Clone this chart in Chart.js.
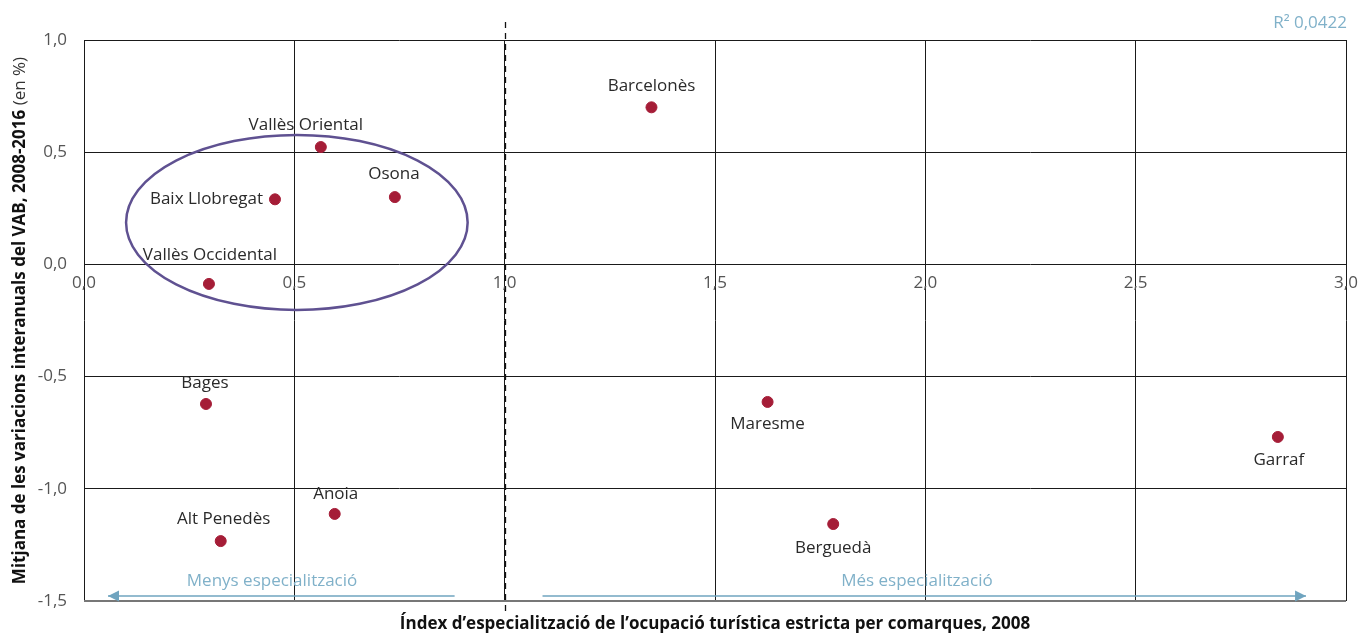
<!DOCTYPE html>
<html>
<head>
<meta charset="utf-8">
<script src="https://cdn.jsdelivr.net/npm/chart.js@4.4.1/dist/chart.umd.min.js"></script>
<style>
  html, body { margin: 0; padding: 0; background: #fff; }
  #wrap { width: 1359px; height: 634px; position: relative; }
</style>
</head>
<body>
<div id="wrap"><canvas id="scatter"></canvas></div>
<script>
// Comarques and values
const comarques = ['Barcelonès', 'Vallès Oriental', 'Osona', 'Baix Llobregat', 'Vallès Occidental',
                   'Bages', 'Anoia', 'Alt Penedès', 'Maresme', 'Berguedà', 'Garraf'];
const indexEspecialitzacio = [1.349, 0.563, 0.739, 0.454, 0.297, 0.290, 0.596, 0.325, 1.625, 1.781, 2.838];
const variacioVAB = [0.70, 0.523, 0.30, 0.29, -0.087, -0.622, -1.112, -1.233, -0.613, -1.157, -0.769];

const xTicks = [0, 0.5, 1.0, 1.5, 2.0, 2.5, 3.0];
const yTicks = [-1.5, -1.0, -0.5, 0, 0.5, 1.0];
const r2Text = 'R² 0,0422';
const menysLabel = 'Menys especialització';
const mesLabel = 'Més especialització';

// highlighted group (ellipse) in data units: cx, cy, rx, ry
const groupEllipse = [0.506, 0.187, 0.406, 0.39];
const threshold = 1.0;

const FONT = '"Open Sans", "DejaVu Sans", sans-serif';
const RED = '#a51d37';
const BLUE = '#80b1c9';

// where each label sits relative to its point: [dx, dy] in px
const labelOffset = {
    'Barcelonès': [0, -21], 'Vallès Oriental': [-15, -22], 'Osona': [-1, -23],
    'Baix Llobregat': ['left', 0], 'Vallès Occidental': [1, -29], 'Bages': [-1, -21],
    'Anoia': [1, -20], 'Alt Penedès': [3, -22], 'Maresme': [0, 22],
    'Berguedà': [0, 24], 'Garraf': [1, 23]
};

function fmt(v) {
    return v.toFixed(1).replace('.', ',');
}

const decoPlugin = {
    id: 'deco',
    beforeDatasetsDraw(chart) {
        const { ctx, chartArea, scales: { x, y } } = chart;
        ctx.save();
        // dashed threshold line
        const tx = Math.round(x.getPixelForValue(threshold)) + 0.5;
        ctx.strokeStyle = '#111';
        ctx.lineWidth = 1.3;
        ctx.setLineDash([6, 5]);
        ctx.beginPath();
        ctx.moveTo(tx, chartArea.top - 18);
        ctx.lineTo(tx, chartArea.bottom + 10);
        ctx.stroke();
        ctx.setLineDash([]);

        // arrows
        const ay = y.getPixelForValue(-1.478);
        ctx.strokeStyle = '#6fa4bf';
        ctx.fillStyle = '#6fa4bf';
        ctx.lineWidth = 1.5;
        const arrows = [[0.057, 0.881, 'left'], [1.09, 2.905, 'right']];
        arrows.forEach(([a, b, dir]) => {
            const x1 = x.getPixelForValue(a), x2 = x.getPixelForValue(b);
            ctx.beginPath();
            ctx.moveTo(x1, ay);
            ctx.lineTo(x2, ay);
            ctx.stroke();
            const tip = dir === 'left' ? x1 : x2;
            const s = dir === 'left' ? 1 : -1;
            ctx.beginPath();
            ctx.moveTo(tip, ay);
            ctx.lineTo(tip + s * 11, ay - 5.5);
            ctx.lineTo(tip + s * 11, ay + 5.5);
            ctx.closePath();
            ctx.fill();
        });
        ctx.font = '17px ' + FONT;
        ctx.fillStyle = BLUE;
        ctx.textAlign = 'center';
        ctx.textBaseline = 'middle';
        ctx.fillText(menysLabel, x.getPixelForValue(0.447), ay - 15);
        ctx.fillText(mesLabel, x.getPixelForValue(1.98), ay - 15);

        // R2
        ctx.textAlign = 'right';
        ctx.fillText(r2Text, chartArea.right + 1, chartArea.top - 17);

        // ellipse
        const [cx, cy, rx, ry] = groupEllipse;
        const pcx = x.getPixelForValue(cx), pcy = y.getPixelForValue(cy);
        const prx = x.getPixelForValue(cx + rx) - pcx;
        const pry = pcy - y.getPixelForValue(cy + ry);
        ctx.strokeStyle = '#5f5191';
        ctx.lineWidth = 2.5;
        ctx.beginPath();
        ctx.ellipse(pcx, pcy, prx, pry, 0, 0, Math.PI * 2);
        ctx.stroke();
        ctx.restore();
    },
    afterDatasetsDraw(chart) {
        const { ctx, chartArea } = chart;
        const meta = chart.getDatasetMeta(0);
        ctx.save();
        ctx.font = '17px ' + FONT;
        ctx.fillStyle = '#2a2a2a';
        ctx.textBaseline = 'middle';
        meta.data.forEach((pt, i) => {
            const name = comarques[i];
            const off = labelOffset[name];
            if (off[0] === 'left') {
                ctx.textAlign = 'right';
                ctx.fillText(name, pt.x - 12, pt.y + off[1]);
            } else {
                ctx.textAlign = 'center';
                ctx.fillText(name, pt.x + off[0], pt.y + off[1]);
            }
        });

        // y axis title: bold part + regular part, rotated
        const bold = 'Mitjana de les variacions interanuals del VAB, 2008-2016 ';
        const reg = '(en %)';
        ctx.translate(20, (chartArea.top + chartArea.bottom) / 2);
        ctx.rotate(-Math.PI / 2);
        ctx.font = 'bold 17px ' + FONT;
        const wb = ctx.measureText(bold).width;
        ctx.font = '17px ' + FONT;
        const wr = ctx.measureText(reg).width;
        let start = -(wb + wr) / 2;
        ctx.textAlign = 'left';
        ctx.font = 'bold 17px ' + FONT;
        ctx.fillStyle = '#111';
        ctx.fillText(bold, start, 0);
        ctx.font = '17px ' + FONT;
        ctx.fillStyle = '#333';
        ctx.fillText(reg, start + wb, 0);
        ctx.restore();
    }
};

const points = indexEspecialitzacio.map((v, i) => ({ x: v, y: variacioVAB[i] }));

new Chart(document.getElementById('scatter'), {
    type: 'scatter',
    data: {
        datasets: [{
            label: 'Comarques',
            data: points,
            backgroundColor: RED,
            borderColor: RED,
            pointRadius: 5.5,
            pointHoverRadius: 5.5
        }]
    },
    options: {
        responsive: true,
        maintainAspectRatio: false,
        animation: false,
        layout: { padding: { top: 40, right: 13, left: 0, bottom: 0 } },
        plugins: {
            legend: { display: false },
            tooltip: { enabled: false }
        },
        scales: {
            x: {
                type: 'linear',
                min: 0,
                max: 3,
                position: { y: 0 },
                afterBuildTicks(s) { s.ticks = xTicks.map(v => ({ value: v })); },
                afterFit(s) { s.paddingLeft = 0; s.paddingRight = 0; },
                ticks: {
                    callback: v => fmt(v),
                    color: '#555',
                    font: { family: FONT, size: 17 },
                    padding: 9,
                    maxRotation: 0
                },
                grid: { color: '#1a1a1a', lineWidth: 1, drawTicks: false },
                border: { display: false }
            },
            y: {
                type: 'linear',
                min: -1.5,
                max: 1,
                afterBuildTicks(s) { s.ticks = yTicks.map(v => ({ value: v })); },
                afterFit(s) { s.width = 84; },
                ticks: {
                    callback: v => fmt(v),
                    color: '#555',
                    font: { family: FONT, size: 17 },
                    padding: 17
                },
                grid: {
                    color: c => (c.tick && c.tick.value === -1.5 ? '#777' : '#1a1a1a'),
                    lineWidth: c => (c.tick && c.tick.value === -1.5 ? 2 : 1),
                    drawTicks: false
                },
                border: { display: false }
            },
            xb: {
                type: 'linear',
                position: 'bottom',
                min: 0,
                max: 3,
                afterFit(s) { s.height = 33; s.paddingLeft = 0; s.paddingRight = 0; },
                ticks: { display: false },
                grid: { display: false, drawTicks: false },
                border: { display: false },
                title: {
                    display: true,
                    text: 'Índex d’especialització de l’ocupació turística estricta per comarques, 2008',
                    color: '#111',
                    font: { family: FONT, size: 17, weight: 'bold' },
                    padding: { top: 6, bottom: 0 }
                }
            }
        }
    },
    plugins: [decoPlugin]
});
</script>
</body>
</html>
